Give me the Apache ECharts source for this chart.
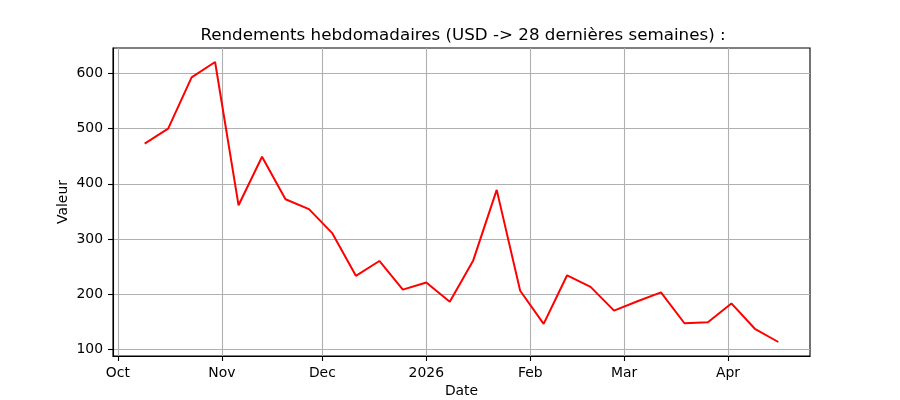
<!DOCTYPE html>
<html>
<head>
<meta charset="utf-8">
<script src="https://cdn.jsdelivr.net/npm/echarts@6/dist/echarts.min.js"></script>
<style>
html,body{margin:0;padding:0;background:#fff;}
#chart{width:900px;height:400px;}
</style>
</head>
<body>
<div id="chart"></div>
<script>
// ---- data ----
const dates = [
  '2025-10-09','2025-10-16','2025-10-23','2025-10-30','2025-11-06','2025-11-13','2025-11-20',
  '2025-11-27','2025-12-04','2025-12-11','2025-12-18','2025-12-25','2026-01-01','2026-01-08',
  '2026-01-15','2026-01-22','2026-01-29','2026-02-05','2026-02-12','2026-02-19','2026-02-26',
  '2026-03-05','2026-03-12','2026-03-19','2026-03-26','2026-04-02','2026-04-09','2026-04-16'
];
const values = [
  473, 500, 593, 621, 361, 449, 372,
  354, 310, 233, 260, 208, 221, 186,
  261, 389, 206, 146, 234, 213, 170,
  187, 203, 147, 149, 183, 137, 113
];
const monthTicks = ['2025-10-01','2025-11-01','2025-12-01','2026-01-01','2026-02-01','2026-03-01','2026-04-01'];
const monthLabels = ['Oct','Nov','Dec','2026','Feb','Mar','Apr'];
const yTicks = [100, 200, 300, 400, 500, 600];

function toTime(s){ const p = s.split('-').map(Number); return Date.UTC(p[0], p[1]-1, p[2]); }
const tickTimes = monthTicks.map(toTime);
const labelMap = {};
tickTimes.forEach((t,i)=>{ labelMap[t] = monthLabels[i]; });

const t0 = toTime(dates[0]), t1 = toTime(dates[dates.length-1]);
const xPad = (t1 - t0) * 0.05;
const yMinD = Math.min(...values), yMaxD = Math.max(...values);
const yPad = (yMaxD - yMinD) * 0.05;

const FONT = 'DejaVu Sans';
const chart = echarts.init(document.getElementById('chart'), null, {renderer:'canvas'});
chart.setOption({
  animation: false,
  backgroundColor: '#fff',
  title: {
    text: 'Rendements hebdomadaires (USD -> 28 dernières semaines) :',
    left: 458, top: 22, textAlign: 'center',
    textStyle: {fontFamily: FONT, fontSize: 16.7, fontWeight: 'normal', color: '#000'}
  },
  grid: {left: 113, right: 90, top: 48, bottom: 44, outerBoundsMode: 'none', containLabel: false,
         show: true, borderColor: '#000', borderWidth: 1.1, backgroundColor: 'transparent'},
  xAxis: {
    type: 'value',
    min: t0 - xPad, max: t1 + xPad,
    name: 'Date', nameLocation: 'middle', nameGap: 28, nameMoveOverlap: false,
    nameTextStyle: {fontFamily: FONT, fontSize: 13.9, color: '#000'},
    axisLine: {show: true, lineStyle: {color: '#000', width: 1.1}},
    axisTick: {show: true, inside: false, length: 5, lineStyle: {color: '#000', width: 1.1}, customValues: tickTimes},
    axisLabel: {
      customValues: tickTimes, margin: 10,
      fontFamily: FONT, fontSize: 13.9, color: '#000',
      formatter: function(v){ return labelMap[v] !== undefined ? labelMap[v] : ''; }
    },
    splitLine: {show: true, lineStyle: {color: '#b0b0b0', width: 1.1}}
  },
  yAxis: {
    type: 'value',
    min: yMinD - yPad, max: yMaxD + yPad,
    name: 'Valeur', nameLocation: 'middle', nameGap: 43, nameRotate: 90, nameMoveOverlap: false,
    nameTextStyle: {fontFamily: FONT, fontSize: 13.9, color: '#000'},
    axisLine: {show: true, lineStyle: {color: '#000', width: 1.1}},
    axisTick: {show: true, inside: false, length: 5, lineStyle: {color: '#000', width: 1.1}, customValues: yTicks},
    axisLabel: {customValues: yTicks, margin: 10, fontFamily: FONT, fontSize: 13.9, color: '#000'},
    splitLine: {show: true, lineStyle: {color: '#b0b0b0', width: 1.1}}
  },
  series: [{
    type: 'line',
    data: dates.map((d,i)=>[toTime(d), values[i]]),
    showSymbol: false,
    lineStyle: {color: '#ff0000', width: 2},
    itemStyle: {color: '#ff0000'}
  }]
});
</script>
</body>
</html>
